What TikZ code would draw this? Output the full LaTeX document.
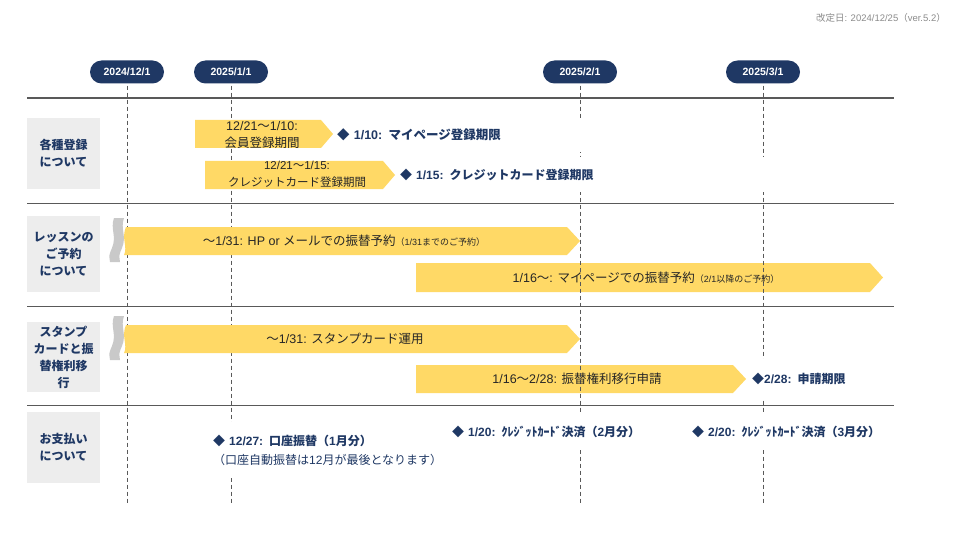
\documentclass[tikz,border=0pt]{standalone}
\usepackage{fontspec}
\setmainfont{Noto Sans CJK JP}
\newfontfamily\latf{Liberation Sans}
\newcommand\lat[1]{{\latf #1}}
\definecolor{navy}{HTML}{1F3864}
\definecolor{yel}{HTML}{FFD966}
\definecolor{lgray}{HTML}{EDEDED}
\definecolor{bandgray}{HTML}{C9C9C9}
\definecolor{linegray}{HTML}{595959}
\definecolor{dategray}{HTML}{8C8C8C}
\definecolor{txt}{HTML}{262626}
\tikzset{
  pill/.style={fill=navy, text=white, rounded corners=11.5pt, minimum width=74, minimum height=23, inner sep=0, font=\latf\fontsize{10.5}{12}\bfseries\selectfont},
  catbox/.style={fill=lgray, text=navy, minimum width=73, align=center, inner sep=0, font=\fontsize{12}{17}\bfseries\selectfont},
  hline/.style={draw=linegray, line width=1.6pt},
  rline/.style={draw=linegray, line width=0.9pt},
  vdash/.style={draw=linegray, line width=0.7pt, dash pattern=on 4pt off 3pt},
  atext/.style={text=txt, align=center, inner sep=0, font=\fontsize{12.5}{17}\selectfont},
  dtext/.style={text=navy, fill=white, anchor=west, align=left, inner sep=2pt, font=\fontsize{12.5}{17}\bfseries\selectfont},
}
\begin{document}
\begin{tikzpicture}[x=1pt,y=-1pt]
\useasboundingbox (0,0) rectangle (960,540);
\fill[white] (0,0) rectangle (960,540);

% revision date
\node[anchor=east, text=dategray, inner sep=0, font=\fontsize{9.5}{11}\selectfont] (rev) at (946,18) {改定日\lat{: 2024/12/25}（\lat{ver.5.2}）};

% date pills
\node[pill] (d1) at (127,72) {2024/12/1};
\node[pill] (d2) at (231,72) {2025/1/1};
\node[pill] (d3) at (580,72) {2025/2/1};
\node[pill] (d4) at (763,72) {2025/3/1};

% category boxes
\node[catbox, minimum height=71] (c1) at (63.5,153.5) {各種登録\\について};
\node[catbox, minimum height=76] (c2) at (63.5,254) {レッスンの\\ご予約\\について};
\node[catbox, minimum height=70] (c3) at (63.5,357) {スタンプ\\カードと振\\替権利移\\行};
\node[catbox, minimum height=71] (c4) at (63.5,447.5) {お支払い\\について};

% horizontal lines
\coordinate (h0l) at (27,98);  \coordinate (h0r) at (894,98);
\coordinate (h1l) at (27,203); \coordinate (h1r) at (894,203);
\coordinate (h2l) at (27,306); \coordinate (h2r) at (894,306);
\coordinate (h3l) at (27,405); \coordinate (h3r) at (894,405);
\draw[hline] (h0l) -- (h0r);
\draw[rline] (h1l) -- (h1r);
\draw[rline] (h2l) -- (h2r);
\draw[rline] (h3l) -- (h3r);

% arrows that lie under the dashed lines
\fill[yel] (416,263) -- (870,263) -- (883,277.5) -- (870,292) -- (416,292) -- cycle;
\fill[yel] (416,365) -- (733,365) -- (746,379) -- (733,393) -- (416,393) -- cycle;

% dashed date lines
\coordinate (bot) at (0,503);
\draw[vdash] ([yshift=-2pt]d1.south) -- (d1.south |- bot);
\draw[vdash] ([yshift=-2pt]d2.south) -- (d2.south |- bot);
\draw[vdash] ([yshift=-2pt]d3.south) -- (d3.south |- bot);
\draw[vdash] ([yshift=-2pt]d4.south) -- (d4.south |- bot);

% row 1 arrows
\fill[yel] (195,120) -- (321,120) -- (333,134) -- (321,148) -- (195,148) -- cycle;
\fill[yel] (205,161) -- (383,161) -- (395,175) -- (383,189) -- (205,189) -- cycle;

% row 2 and row 3: arrows with break marks
\foreach \dy in {0,98}{
  \begin{scope}[yshift=-\dy pt]
    \fill[bandgray] (114,218) -- (124,218) .. controls (120,229) and (127,236) .. (122,248) .. controls (119,255) .. (120,262)
      -- (110,262) .. controls (109,255) .. (112,248) .. controls (117,236) and (110,229) .. (114,218) -- cycle;
    \fill[yel] (126,227) -- (567,227) -- (580,241) -- (567,255) -- (124,255)
      .. controls (128,247) and (121,238) .. (126,227) -- cycle;
  \end{scope}
}

% arrow texts
\node[atext] (ta) at (262,134.5) {\lat{12/21}〜\lat{1/10:}\\会員登録期間};
\node[atext, font=\fontsize{11.5}{17}\selectfont] (tb) at (297,174.5) {\lat{12/21}〜\lat{1/15:}\\クレジットカード登録期間};
\node[atext] (tc) at (344,241) {〜\lat{1/31: HP or }メールでの振替予約{\fontsize{9}{10}\selectfont （\lat{1/31}までのご予約）}};
\node[atext] (td) at (646,277.5) {\lat{1/16}〜\lat{: }マイページでの振替予約{\fontsize{9}{10}\selectfont （\lat{2/1}以降のご予約）}};
\node[atext] (te) at (345,339) {〜\lat{1/31: }スタンプカード運用};
\node[atext] (tf) at (577,379) {\lat{1/16}〜\lat{2/28: }振替権利移行申請};

% milestone texts (white backing interrupts the dashed lines)
\node[dtext, minimum height=34, text width=250] (m1) at (335,135) {◆\lat{ 1/10: }マイページ登録期限};
\node[dtext, minimum height=35, text width=370, font=\fontsize{12}{17}\bfseries\selectfont] (m2) at (398,174.5) {◆\lat{ 1/15: }クレジットカード登録期限};
\node[dtext, minimum height=40, text width=110, font=\fontsize{12}{17}\bfseries\selectfont] (m3) at (750,379) {◆\lat{2/28: }申請期限};
\node[dtext, minimum height=56, text width=234, font=\fontsize{12}{20}\selectfont] (m4) at (211,450)
  {{\bfseries ◆\lat{ 12/27: }口座振替（\lat{1}月分）}\\[-1pt]（口座自動振替は\lat{12}月が最後となります）};
\node[dtext, minimum height=37, text width=196, font=\fontsize{12}{17}\bfseries\selectfont] (m5) at (450,431.5) {◆\lat{ 1/20: }ｸﾚｼﾞｯﾄｶｰﾄﾞ決済（\lat{2}月分）};
\node[dtext, minimum height=37, text width=204, font=\fontsize{12}{17}\bfseries\selectfont] (m6) at (690,431.5) {◆\lat{ 2/20: }ｸﾚｼﾞｯﾄｶｰﾄﾞ決済（\lat{3}月分）};
\end{tikzpicture}
\end{document}
